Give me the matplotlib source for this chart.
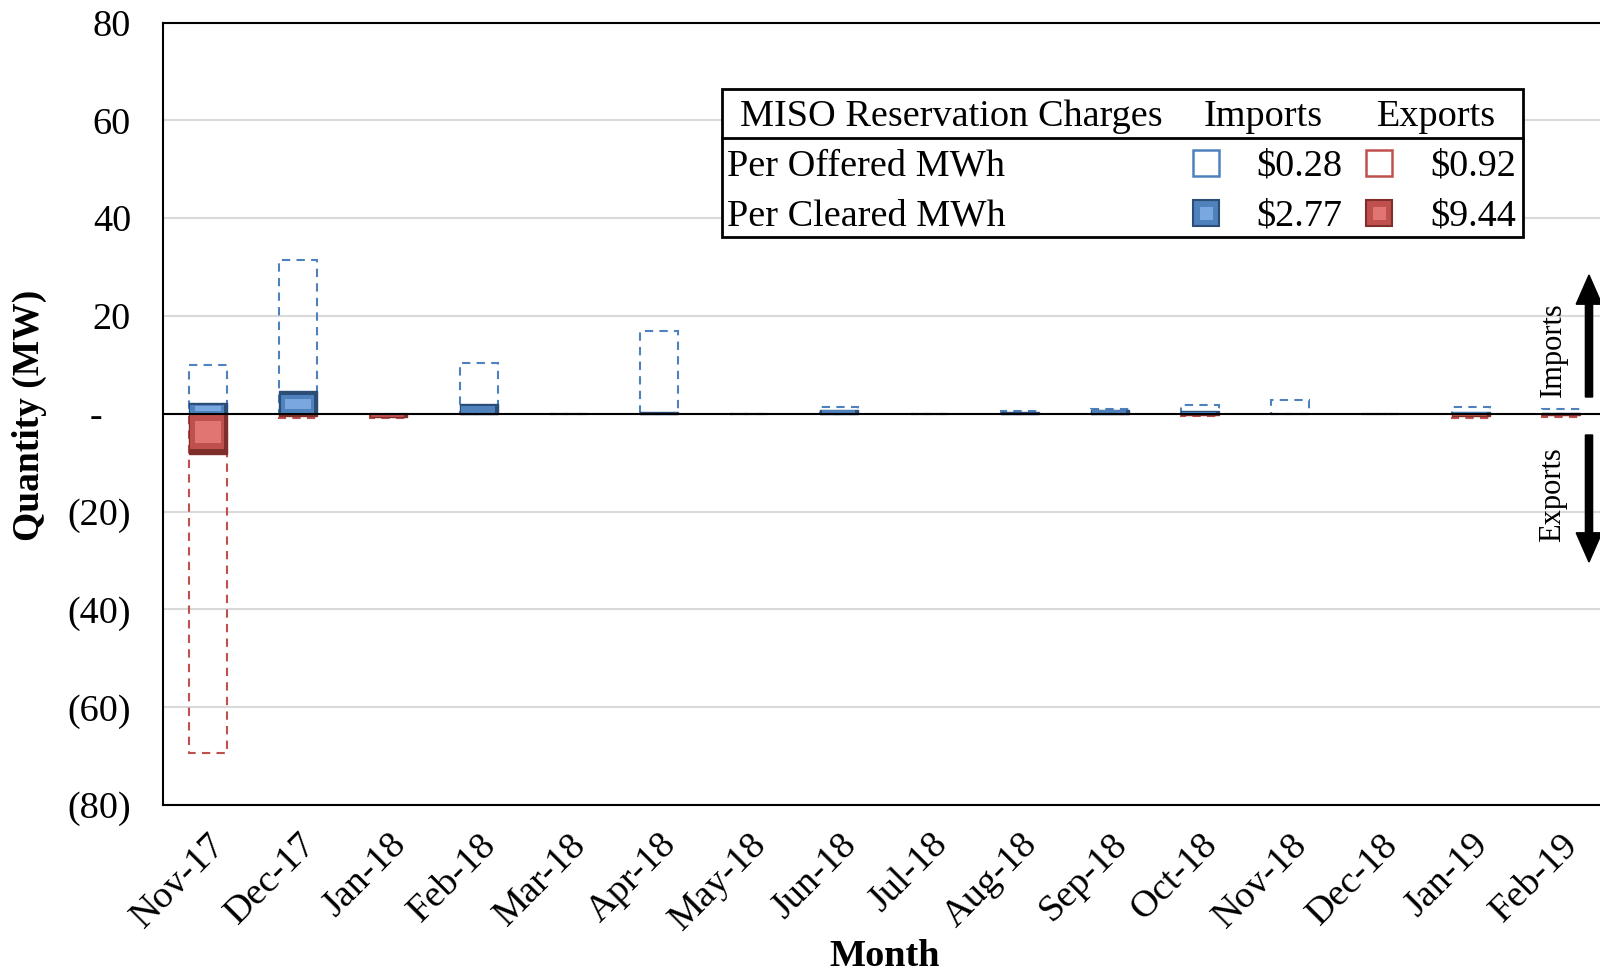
import numpy as np
import matplotlib
matplotlib.use("Agg")
import matplotlib.pyplot as plt
from matplotlib.patches import Rectangle, FancyArrow

plt.rcParams['font.family'] = ['Liberation Serif', 'DejaVu Serif']

## Monthly MISO reservation quantities (MW)
months = ['Nov-17', 'Dec-17', 'Jan-18', 'Feb-18', 'Mar-18', 'Apr-18', 'May-18', 'Jun-18',
          'Jul-18', 'Aug-18', 'Sep-18', 'Oct-18', 'Nov-18', 'Dec-18', 'Jan-19', 'Feb-19']
import_offered = [10.0, 31.5, 0.0, 10.4, 0.0, 17.0, 0.0, 1.3, 0.0, 0.5, 0.9, 1.8, 2.9, 0.0, 1.3, 0.9]
import_cleared = [2.2, 4.6, 0.0, 1.9, 0.0, 0.3, 0.0, 0.8, 0.0, 0.3, 0.8, 0.5, 0.0, 0.0, 0.4, 0.2]
export_offered = [-69.3, -0.9, -0.9, 0.0, 0.0, 0.0, 0.0, 0.0, 0.0, 0.0, 0.0, -0.5, 0.0, 0.0, -0.8, -0.6]
export_cleared = [-8.2, -0.4, -0.7, 0.0, 0.0, 0.0, 0.0, 0.0, 0.0, 0.0, 0.0, -0.3, 0.0, 0.0, -0.5, -0.2]

yticks = [80, 60, 40, 20, 0, -20, -40, -60, -80]
ytick_labels = ['80', '60', '40', '20', '-   ', '(20)', '(40)', '(60)', '(80)']

# legend table entries
charge_rows = ['Per Offered MWh', 'Per Cleared MWh']
import_charges = ['$0.28', '$2.77']
export_charges = ['$0.92', '$9.44']

BLUE = '#4F81BD'
BLUE_DARK = '#2C4D75'
BLUE_LIGHT = '#7AA7E0'
RED = '#C0504D'
RED_DARK = '#7F2E2C'
RED_LIGHT = '#E07572'

W, H = 1600, 973
fig = plt.figure(figsize=(16, 9.73), dpi=100)
ax = fig.add_axes([163 / W, 1 - 805 / H, 1443 / W, (805 - 22.5) / H])

x = np.arange(len(months))
bw = 0.42


def bevel_bars(ax, xs, vals, base, dark, light):
    # rough imitation of the excel bevel: dark frame, base fill, light centre
    for xi, v in zip(xs, vals):
        if v == 0:
            continue
        ax.add_patch(Rectangle((xi - bw / 2, 0), bw, v, facecolor=dark, edgecolor=dark,
                               linewidth=1, zorder=3))
        inset_x = bw * 0.08
        inset_y = min(abs(v) * 0.18, 1.2) * np.sign(v)
        ax.add_patch(Rectangle((xi - bw / 2 + inset_x * 0.4, inset_y * 0.2), bw - inset_x * 1.4,
                               v - inset_y * 1.1, facecolor=base, edgecolor='none', zorder=3.1))
        if abs(v) > 2:
            ax.add_patch(Rectangle((xi - bw / 2 + inset_x * 2, inset_y * 1.2), bw - inset_x * 4,
                                   v - inset_y * 3, facecolor=light, edgecolor='none', zorder=3.2))


# offered = dashed outline bars
ax.bar(x, import_offered, bw, fill=False, edgecolor=BLUE, linestyle=(0, (4, 3)), linewidth=1.5, zorder=2)
ax.bar(x, export_offered, bw, fill=False, edgecolor=RED, linestyle=(0, (4, 3)), linewidth=1.5, zorder=2)
# cleared = solid bevelled bars
bevel_bars(ax, x, import_cleared, BLUE, BLUE_DARK, BLUE_LIGHT)
bevel_bars(ax, x, export_cleared, RED, RED_DARK, RED_LIGHT)

ax.axhline(0, color='black', linewidth=1.5, zorder=4)

ax.set_xlim(-0.5, len(months) - 0.5)
ax.set_ylim(-80, 80)
ax.set_yticks(yticks)
ax.set_yticklabels(ytick_labels, fontsize=27.5)
ax.set_xticks(x)
ax.set_xticklabels(months, rotation=45, ha='right', rotation_mode='anchor', fontsize=27.5)
ax.tick_params(axis='both', length=0)
ax.tick_params(axis='y', pad=23)
ax.tick_params(axis='x', pad=16)
ax.grid(axis='y', color='#D9D9D9', linewidth=1.5, zorder=0)
ax.set_axisbelow(True)
for s in ax.spines.values():
    s.set_linewidth(1.5)

fig.text(29 / W, 1 - 415 / H, 'Quantity (MW)', fontsize=27, fontweight='bold', rotation=90,
         ha='center', va='center')
fig.text(885 / W, 1 - 957 / H, 'Month', fontsize=27.5, fontweight='bold', ha='center', va='center')


## legend table drawn in figure pixels
def fx(px):
    return px / W


def fy(py):
    return 1 - py / H


fig.add_artist(Rectangle((fx(722), fy(237)), fx(1523) - fx(722), fy(89) - fy(237),
                         transform=fig.transFigure, facecolor='white', edgecolor='black',
                         linewidth=2, zorder=10))
fig.add_artist(plt.Line2D([fx(722), fx(1523)], [fy(138), fy(138)], transform=fig.transFigure,
                          color='black', linewidth=2, zorder=11))
fs = 27.5
fig.text(fx(740), fy(117), 'MISO Reservation Charges', fontsize=fs, va='center', ha='left', zorder=12)
fig.text(fx(1263), fy(117), 'Imports', fontsize=fs, va='center', ha='center', zorder=12)
fig.text(fx(1437), fy(117), 'Exports', fontsize=fs, va='center', ha='center', zorder=12)

row_y = [166, 216]
sq = 26
for i, label in enumerate(charge_rows):
    yy = row_y[i]
    fig.text(fx(727), fy(yy), label, fontsize=fs, va='center', ha='left', zorder=12)
    fig.text(fx(1342), fy(yy), import_charges[i], fontsize=fs, va='center', ha='right', zorder=12)
    fig.text(fx(1516), fy(yy), export_charges[i], fontsize=fs, va='center', ha='right', zorder=12)
    sy = yy - 3
    for cx, col, dark, light in [(1206, BLUE, BLUE_DARK, BLUE_LIGHT), (1379, RED, RED_DARK, RED_LIGHT)]:
        if i == 0:
            fig.add_artist(Rectangle((fx(cx - sq / 2), fy(sy + sq / 2)), sq / W, sq / H,
                                     transform=fig.transFigure, facecolor='white', edgecolor=col,
                                     linewidth=1.8, zorder=12))
        else:
            fig.add_artist(Rectangle((fx(cx - sq / 2), fy(sy + sq / 2)), sq / W, sq / H,
                                     transform=fig.transFigure, facecolor=col, edgecolor=dark,
                                     linewidth=1.5, zorder=12))
            fig.add_artist(Rectangle((fx(cx - sq / 4), fy(sy + sq / 4)), sq / 2 / W, sq / 2 / H,
                                     transform=fig.transFigure, facecolor=light, edgecolor='none',
                                     zorder=13))

## Imports / Exports direction arrows on the right
fig.text(fx(1553), fy(350), 'Imports', fontsize=22, rotation=90, ha='center', va='center')
fig.text(fx(1553), fy(495), 'Exports', fontsize=22, rotation=90, ha='center', va='center')
fig.add_artist(FancyArrow(fx(1589), fy(397), 0, fy(275) - fy(397), width=0.0045,
                          head_width=0.016, head_length=0.03, length_includes_head=True,
                          transform=fig.transFigure, color='black'))
fig.add_artist(FancyArrow(fx(1589), fy(435), 0, fy(562) - fy(435), width=0.0045,
                          head_width=0.016, head_length=0.03, length_includes_head=True,
                          transform=fig.transFigure, color='black'))

fig.savefig('out.png', dpi=100)
